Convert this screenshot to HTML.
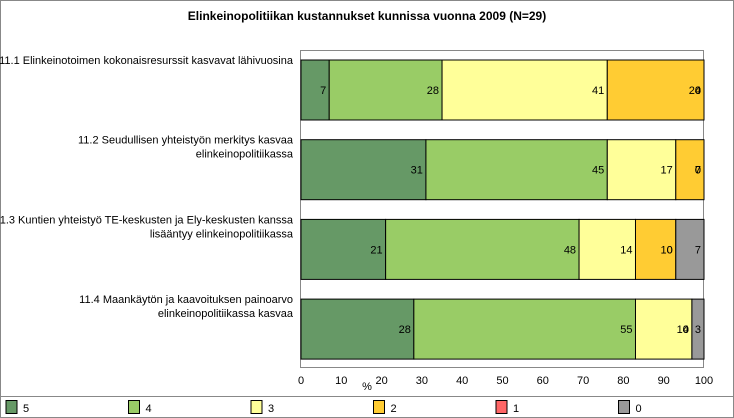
<!DOCTYPE html>
<html><head><meta charset="utf-8"><style>
html,body{margin:0;padding:0;background:#fff;}
svg{display:block;font-family:"Liberation Sans",Arial,sans-serif;}
</style></head><body>
<svg id="chart" width="734" height="418" viewBox="0 0 734 418">
<rect x="0.5" y="0.5" width="733" height="417" fill="#fff" stroke="#888"/>
<text x="367" y="20" text-anchor="middle" font-size="12" font-weight="bold">Elinkeinopolitiikan kustannukset kunnissa vuonna 2009 (N=29)</text>
<rect x="300.5" y="50.5" width="403" height="317" fill="#fff" stroke="#888"/>
<line x1="0" y1="396.5" x2="734" y2="396.5" stroke="#888"/>
<g id="bars"></g><g id="xaxis"></g><g id="cats"></g><g id="legend"></g>
</svg>
<script>
const categories = [
 ["11.1 Elinkeinotoimen kokonaisresurssit kasvavat lähivuosina"],
 ["11.2 Seudullisen yhteistyön merkitys kasvaa","elinkeinopolitiikassa"],
 ["11.3 Kuntien yhteistyö TE-keskusten ja Ely-keskusten kanssa","lisääntyy elinkeinopolitiikassa"],
 ["11.4 Maankäytön ja kaavoituksen painoarvo","elinkeinopolitiikassa kasvaa"]
];
const seriesNames = ["5","4","3","2","1","0"];
const s5 = [7,31,21,28];
const s4 = [28,45,48,55];
const s3 = [41,17,14,14];
const s2 = [24,7,10,0];
const s1 = [0,0,0,0];
const s0 = [0,0,7,3];
const xTicks = [0,10,20,30,40,50,60,70,80,90,100];
const colors = ["#669966","#99cc66","#ffff99","#ffcc33","#ff6666","#999999"];
const NS="http://www.w3.org/2000/svg";
const x = v => 301 + v*4.03;
const rowY = i => 60 + i*79.7;
const barH = 60;
const series=[s5,s4,s3,s2,s1,s0];
function mk(tag,attrs,parent){const e=document.createElementNS(NS,tag);for(const k in attrs)e.setAttribute(k,attrs[k]);parent.appendChild(e);return e;}
const bars=document.getElementById('bars');
categories.forEach((c,i)=>{
  let cum=0;
  series.forEach((s,j)=>{
    const v=s[i];
    const r=mk('rect',{x:x(cum),y:rowY(i),width:v*4.03,height:barH,fill:colors[j],stroke:'#000','stroke-width':1},bars);
    
    
    cum+=v;
  });
  cum=0;
  series.forEach((s,j)=>{
    const v=s[i];cum+=v;
    const t=mk('text',{x:x(cum)-3,y:rowY(i)+barH/2+4,'text-anchor':'end','font-size':11},bars);
    t.textContent=v;
    
    
  });
  const lines=c;
  lines.forEach((ln,k)=>{
    const t=mk('text',{x:293,y:rowY(i)+4+k*14-(i==0?0:0),'text-anchor':'end','font-size':11},document.getElementById('cats'));
    t.textContent=ln;
    
    
  });
});
const xa=document.getElementById('xaxis');
xTicks.forEach(v=>{
  const t=mk('text',{x:x(v),y:384,'text-anchor':'middle','font-size':11},xa);
  t.textContent=v;
  
  
});
const pt=mk('text',{x:367,y:390,'text-anchor':'middle','font-size':11},xa);
pt.textContent='%';


const lg=document.getElementById('legend');
seriesNames.forEach((n,j)=>{
  const lx=6+j*122.5;
  const r=mk('rect',{x:lx,y:400.5,width:11,height:13,fill:colors[j],stroke:'#000'},lg);
  
  
  const t=mk('text',{x:lx+17,y:412,'font-size':11},lg);
  t.textContent=n;
  
  
});
</script>
</body></html>
